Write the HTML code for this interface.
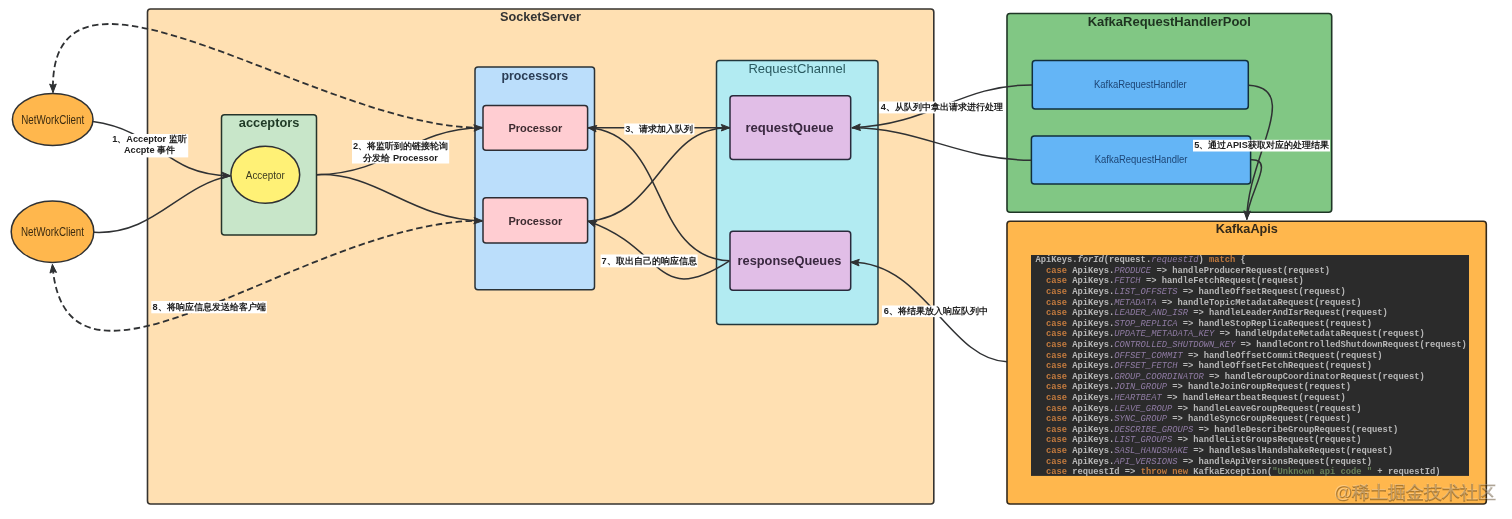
<!DOCTYPE html><html><head><meta charset="utf-8"><style>html,body{margin:0;padding:0;background:#fff;width:1512px;height:519px;overflow:hidden}svg{display:block;font-family:"Liberation Sans",sans-serif;will-change:transform}</style></head><body><svg width="1512" height="519" viewBox="0 0 1512 519" font-family="Liberation Sans, sans-serif">
<rect width="1512" height="519" fill="#fff"/>
<rect x="147.5" y="9" width="786.3" height="495" rx="3" fill="#FFE0B2" stroke="#36332f" stroke-width="1.6"/>
<text x="540.5" y="20.8" font-size="12.7" font-weight="bold" fill="#333" text-anchor="middle" >SocketServer</text>
<rect x="1007" y="13.5" width="324.70000000000005" height="198.7" rx="3" fill="#81C784" stroke="#1f3626" stroke-width="1.6"/>
<text x="1169.3" y="26" font-size="13" font-weight="bold" fill="#1e3320" text-anchor="middle" >KafkaRequestHandlerPool</text>
<rect x="1007" y="221.2" width="479.29999999999995" height="282.8" rx="3" fill="#FFB74D" stroke="#342a1c" stroke-width="1.6"/>
<text x="1246.9" y="233" font-size="12.7" font-weight="bold" fill="#33291a" text-anchor="middle" >KafkaApis</text>
<rect x="221.5" y="114.7" width="95.0" height="120.3" rx="3" fill="#C8E6C9" stroke="#26342a" stroke-width="1.5"/>
<text x="269.1" y="127.2" font-size="12.8" font-weight="bold" fill="#1f3a26" text-anchor="middle" >acceptors</text>
<ellipse cx="265.3" cy="174.7" rx="34.4" ry="28.5" fill="#FFF176" stroke="#2f3133" stroke-width="1.5"/>
<text transform="translate(265.3,178.6) scale(1,1.18)" font-size="9.9" font-weight="normal" fill="#3b3a20" text-anchor="middle" >Acceptor</text>
<ellipse cx="52.7" cy="119.6" rx="40.3" ry="26" fill="#FFB74D" stroke="#2f3133" stroke-width="1.5"/>
<text transform="translate(52.7,123.9) scale(1,1.22)" font-size="9.8" font-weight="normal" fill="#3a2a10" text-anchor="middle" >NetWorkClient</text>
<ellipse cx="52.5" cy="231.8" rx="41.3" ry="30.7" fill="#FFB74D" stroke="#2f3133" stroke-width="1.5"/>
<text transform="translate(52.5,236) scale(1,1.22)" font-size="9.8" font-weight="normal" fill="#3a2a10" text-anchor="middle" >NetWorkClient</text>
<rect x="475" y="67.1" width="119.5" height="222.6" rx="3" fill="#BBDEFB" stroke="#2b3236" stroke-width="1.5"/>
<text x="534.8" y="79.5" font-size="12.4" font-weight="bold" fill="#2b3d55" text-anchor="middle" >processors</text>
<rect x="483" y="105.4" width="104.60000000000002" height="44.900000000000006" rx="3" fill="#FFCDD2" stroke="#2d2d33" stroke-width="1.5"/>
<text x="535.3" y="131.8" font-size="11" font-weight="bold" fill="#3d2b30" text-anchor="middle" >Processor</text>
<rect x="483" y="197.8" width="104.60000000000002" height="45.29999999999998" rx="3" fill="#FFCDD2" stroke="#2d2d33" stroke-width="1.5"/>
<text x="535.3" y="224.6" font-size="11" font-weight="bold" fill="#3d2b30" text-anchor="middle" >Processor</text>
<rect x="716.5" y="60.4" width="161.5" height="264.1" rx="3" fill="#B2EBF2" stroke="#22373c" stroke-width="1.5"/>
<text x="797" y="72.7" font-size="13.05" font-weight="normal" fill="#2a5a60" text-anchor="middle" >RequestChannel</text>
<rect x="730" y="95.8" width="120.70000000000005" height="63.60000000000001" rx="3" fill="#E1BEE7" stroke="#2a2a3c" stroke-width="1.5"/>
<text x="789.5" y="131.8" font-size="13.1" font-weight="bold" fill="#3a2840" text-anchor="middle" >requestQueue</text>
<rect x="730" y="231.2" width="120.70000000000005" height="59.0" rx="3" fill="#E1BEE7" stroke="#2a2a3c" stroke-width="1.5"/>
<text x="789.5" y="265.1" font-size="12.8" font-weight="bold" fill="#3a2840" text-anchor="middle" >responseQueues</text>
<rect x="1032.3" y="60.4" width="216.0" height="48.6" rx="3" fill="#64B5F6" stroke="#112f3c" stroke-width="1.5"/>
<text transform="translate(1140.3,87.9) scale(1,1.16)" font-size="9.5" font-weight="normal" fill="#1d4575" text-anchor="middle" >KafkaRequestHandler</text>
<rect x="1031.4" y="136" width="219.19999999999982" height="48" rx="3" fill="#64B5F6" stroke="#112f3c" stroke-width="1.5"/>
<text transform="translate(1141.1,163.4) scale(1,1.16)" font-size="9.5" font-weight="normal" fill="#1d4575" text-anchor="middle" >KafkaRequestHandler</text>
<rect x="1031" y="255" width="438" height="220.9" fill="#2B2B2B"/>
<text x="1035.4" y="262.30" font-family="Liberation Mono, monospace" font-size="8.78" font-weight="bold" xml:space="preserve"><tspan fill="#b8b8b8">ApiKeys.</tspan><tspan fill="#b8b8b8" font-style="italic">forId</tspan><tspan fill="#b8b8b8">(request.</tspan><tspan fill="#8f7ba3" font-style="italic" font-weight="normal">requestId</tspan><tspan fill="#b8b8b8">) </tspan><tspan fill="#c27a3e">match</tspan><tspan fill="#b8b8b8"> {</tspan></text>
<text x="1035.4" y="272.89" font-family="Liberation Mono, monospace" font-size="8.78" font-weight="bold" xml:space="preserve"><tspan fill="#b8b8b8">  </tspan><tspan fill="#c27a3e">case</tspan><tspan fill="#b8b8b8"> ApiKeys.</tspan><tspan fill="#8f7ba3" font-style="italic" font-weight="normal">PRODUCE</tspan><tspan fill="#b8b8b8"> =&gt; handleProducerRequest(request)</tspan></text>
<text x="1035.4" y="283.48" font-family="Liberation Mono, monospace" font-size="8.78" font-weight="bold" xml:space="preserve"><tspan fill="#b8b8b8">  </tspan><tspan fill="#c27a3e">case</tspan><tspan fill="#b8b8b8"> ApiKeys.</tspan><tspan fill="#8f7ba3" font-style="italic" font-weight="normal">FETCH</tspan><tspan fill="#b8b8b8"> =&gt; handleFetchRequest(request)</tspan></text>
<text x="1035.4" y="294.07" font-family="Liberation Mono, monospace" font-size="8.78" font-weight="bold" xml:space="preserve"><tspan fill="#b8b8b8">  </tspan><tspan fill="#c27a3e">case</tspan><tspan fill="#b8b8b8"> ApiKeys.</tspan><tspan fill="#8f7ba3" font-style="italic" font-weight="normal">LIST_OFFSETS</tspan><tspan fill="#b8b8b8"> =&gt; handleOffsetRequest(request)</tspan></text>
<text x="1035.4" y="304.66" font-family="Liberation Mono, monospace" font-size="8.78" font-weight="bold" xml:space="preserve"><tspan fill="#b8b8b8">  </tspan><tspan fill="#c27a3e">case</tspan><tspan fill="#b8b8b8"> ApiKeys.</tspan><tspan fill="#8f7ba3" font-style="italic" font-weight="normal">METADATA</tspan><tspan fill="#b8b8b8"> =&gt; handleTopicMetadataRequest(request)</tspan></text>
<text x="1035.4" y="315.25" font-family="Liberation Mono, monospace" font-size="8.78" font-weight="bold" xml:space="preserve"><tspan fill="#b8b8b8">  </tspan><tspan fill="#c27a3e">case</tspan><tspan fill="#b8b8b8"> ApiKeys.</tspan><tspan fill="#8f7ba3" font-style="italic" font-weight="normal">LEADER_AND_ISR</tspan><tspan fill="#b8b8b8"> =&gt; handleLeaderAndIsrRequest(request)</tspan></text>
<text x="1035.4" y="325.84" font-family="Liberation Mono, monospace" font-size="8.78" font-weight="bold" xml:space="preserve"><tspan fill="#b8b8b8">  </tspan><tspan fill="#c27a3e">case</tspan><tspan fill="#b8b8b8"> ApiKeys.</tspan><tspan fill="#8f7ba3" font-style="italic" font-weight="normal">STOP_REPLICA</tspan><tspan fill="#b8b8b8"> =&gt; handleStopReplicaRequest(request)</tspan></text>
<text x="1035.4" y="336.43" font-family="Liberation Mono, monospace" font-size="8.78" font-weight="bold" xml:space="preserve"><tspan fill="#b8b8b8">  </tspan><tspan fill="#c27a3e">case</tspan><tspan fill="#b8b8b8"> ApiKeys.</tspan><tspan fill="#8f7ba3" font-style="italic" font-weight="normal">UPDATE_METADATA_KEY</tspan><tspan fill="#b8b8b8"> =&gt; handleUpdateMetadataRequest(request)</tspan></text>
<text x="1035.4" y="347.02" font-family="Liberation Mono, monospace" font-size="8.78" font-weight="bold" xml:space="preserve"><tspan fill="#b8b8b8">  </tspan><tspan fill="#c27a3e">case</tspan><tspan fill="#b8b8b8"> ApiKeys.</tspan><tspan fill="#8f7ba3" font-style="italic" font-weight="normal">CONTROLLED_SHUTDOWN_KEY</tspan><tspan fill="#b8b8b8"> =&gt; handleControlledShutdownRequest(request)</tspan></text>
<text x="1035.4" y="357.61" font-family="Liberation Mono, monospace" font-size="8.78" font-weight="bold" xml:space="preserve"><tspan fill="#b8b8b8">  </tspan><tspan fill="#c27a3e">case</tspan><tspan fill="#b8b8b8"> ApiKeys.</tspan><tspan fill="#8f7ba3" font-style="italic" font-weight="normal">OFFSET_COMMIT</tspan><tspan fill="#b8b8b8"> =&gt; handleOffsetCommitRequest(request)</tspan></text>
<text x="1035.4" y="368.20" font-family="Liberation Mono, monospace" font-size="8.78" font-weight="bold" xml:space="preserve"><tspan fill="#b8b8b8">  </tspan><tspan fill="#c27a3e">case</tspan><tspan fill="#b8b8b8"> ApiKeys.</tspan><tspan fill="#8f7ba3" font-style="italic" font-weight="normal">OFFSET_FETCH</tspan><tspan fill="#b8b8b8"> =&gt; handleOffsetFetchRequest(request)</tspan></text>
<text x="1035.4" y="378.79" font-family="Liberation Mono, monospace" font-size="8.78" font-weight="bold" xml:space="preserve"><tspan fill="#b8b8b8">  </tspan><tspan fill="#c27a3e">case</tspan><tspan fill="#b8b8b8"> ApiKeys.</tspan><tspan fill="#8f7ba3" font-style="italic" font-weight="normal">GROUP_COORDINATOR</tspan><tspan fill="#b8b8b8"> =&gt; handleGroupCoordinatorRequest(request)</tspan></text>
<text x="1035.4" y="389.38" font-family="Liberation Mono, monospace" font-size="8.78" font-weight="bold" xml:space="preserve"><tspan fill="#b8b8b8">  </tspan><tspan fill="#c27a3e">case</tspan><tspan fill="#b8b8b8"> ApiKeys.</tspan><tspan fill="#8f7ba3" font-style="italic" font-weight="normal">JOIN_GROUP</tspan><tspan fill="#b8b8b8"> =&gt; handleJoinGroupRequest(request)</tspan></text>
<text x="1035.4" y="399.97" font-family="Liberation Mono, monospace" font-size="8.78" font-weight="bold" xml:space="preserve"><tspan fill="#b8b8b8">  </tspan><tspan fill="#c27a3e">case</tspan><tspan fill="#b8b8b8"> ApiKeys.</tspan><tspan fill="#8f7ba3" font-style="italic" font-weight="normal">HEARTBEAT</tspan><tspan fill="#b8b8b8"> =&gt; handleHeartbeatRequest(request)</tspan></text>
<text x="1035.4" y="410.56" font-family="Liberation Mono, monospace" font-size="8.78" font-weight="bold" xml:space="preserve"><tspan fill="#b8b8b8">  </tspan><tspan fill="#c27a3e">case</tspan><tspan fill="#b8b8b8"> ApiKeys.</tspan><tspan fill="#8f7ba3" font-style="italic" font-weight="normal">LEAVE_GROUP</tspan><tspan fill="#b8b8b8"> =&gt; handleLeaveGroupRequest(request)</tspan></text>
<text x="1035.4" y="421.15" font-family="Liberation Mono, monospace" font-size="8.78" font-weight="bold" xml:space="preserve"><tspan fill="#b8b8b8">  </tspan><tspan fill="#c27a3e">case</tspan><tspan fill="#b8b8b8"> ApiKeys.</tspan><tspan fill="#8f7ba3" font-style="italic" font-weight="normal">SYNC_GROUP</tspan><tspan fill="#b8b8b8"> =&gt; handleSyncGroupRequest(request)</tspan></text>
<text x="1035.4" y="431.74" font-family="Liberation Mono, monospace" font-size="8.78" font-weight="bold" xml:space="preserve"><tspan fill="#b8b8b8">  </tspan><tspan fill="#c27a3e">case</tspan><tspan fill="#b8b8b8"> ApiKeys.</tspan><tspan fill="#8f7ba3" font-style="italic" font-weight="normal">DESCRIBE_GROUPS</tspan><tspan fill="#b8b8b8"> =&gt; handleDescribeGroupRequest(request)</tspan></text>
<text x="1035.4" y="442.33" font-family="Liberation Mono, monospace" font-size="8.78" font-weight="bold" xml:space="preserve"><tspan fill="#b8b8b8">  </tspan><tspan fill="#c27a3e">case</tspan><tspan fill="#b8b8b8"> ApiKeys.</tspan><tspan fill="#8f7ba3" font-style="italic" font-weight="normal">LIST_GROUPS</tspan><tspan fill="#b8b8b8"> =&gt; handleListGroupsRequest(request)</tspan></text>
<text x="1035.4" y="452.92" font-family="Liberation Mono, monospace" font-size="8.78" font-weight="bold" xml:space="preserve"><tspan fill="#b8b8b8">  </tspan><tspan fill="#c27a3e">case</tspan><tspan fill="#b8b8b8"> ApiKeys.</tspan><tspan fill="#8f7ba3" font-style="italic" font-weight="normal">SASL_HANDSHAKE</tspan><tspan fill="#b8b8b8"> =&gt; handleSaslHandshakeRequest(request)</tspan></text>
<text x="1035.4" y="463.51" font-family="Liberation Mono, monospace" font-size="8.78" font-weight="bold" xml:space="preserve"><tspan fill="#b8b8b8">  </tspan><tspan fill="#c27a3e">case</tspan><tspan fill="#b8b8b8"> ApiKeys.</tspan><tspan fill="#8f7ba3" font-style="italic" font-weight="normal">API_VERSIONS</tspan><tspan fill="#b8b8b8"> =&gt; handleApiVersionsRequest(request)</tspan></text>
<text x="1035.4" y="474.10" font-family="Liberation Mono, monospace" font-size="8.78" font-weight="bold" xml:space="preserve"><tspan fill="#b8b8b8">  </tspan><tspan fill="#c27a3e">case</tspan><tspan fill="#b8b8b8"> requestId =&gt; </tspan><tspan fill="#c27a3e">throw</tspan><tspan fill="#b8b8b8"> </tspan><tspan fill="#c27a3e">new</tspan><tspan fill="#b8b8b8"> KafkaException(</tspan><tspan fill="#68805a">&quot;Unknown api code &quot;</tspan><tspan fill="#b8b8b8"> + requestId)</tspan></text>
<path d="M 482.4 127.7 C 322.1 130.1, 47.3 -81.0, 53 92.5" fill="none" stroke="#2f3133" stroke-width="1.8" stroke-dasharray="6.5 3.5"/>
<polygon points="53.00,92.50 49.66,84.02 52.97,85.50 56.26,83.98" fill="#2f3133" stroke="#2f3133" stroke-width="1" stroke-linejoin="miter"/>
<path d="M 482 220.7 C 307.5 219.3, 65.0 436.6, 52.4 264.3" fill="none" stroke="#2f3133" stroke-width="1.8" stroke-dasharray="6.5 3.5"/>
<polygon points="52.40,264.30 56.53,272.43 53.10,271.27 49.96,273.09" fill="#2f3133" stroke="#2f3133" stroke-width="1" stroke-linejoin="miter"/>
<path d="M 92.8 121.6 C 159.6 130.9, 164.3 175.3, 230.5 175.8" fill="none" stroke="#2f3133" stroke-width="1.5"/>
<polygon points="230.50,175.80 221.89,178.79 223.50,175.54 222.13,172.19" fill="#2f3133" stroke="#2f3133" stroke-width="1" stroke-linejoin="miter"/>
<path d="M 94 232.3 C 154.5 235.3, 178.1 185.7, 230.5 175.8" fill="none" stroke="#2f3133" stroke-width="1.5"/>
<path d="M 316.6 174.7 C 392.9 173.4, 408.3 128.6, 482.4 127.7" fill="none" stroke="#2f3133" stroke-width="1.5"/>
<polygon points="482.40,127.70 474.02,131.29 475.40,127.94 473.79,124.70" fill="#2f3133" stroke="#2f3133" stroke-width="1" stroke-linejoin="miter"/>
<path d="M 316.6 174.7 C 378.2 172.1, 409.8 219.2, 482.4 221" fill="none" stroke="#2f3133" stroke-width="1.5"/>
<polygon points="482.40,221.00 473.75,223.88 475.41,220.66 474.07,217.29" fill="#2f3133" stroke="#2f3133" stroke-width="1" stroke-linejoin="miter"/>
<path d="M 588 127.7 C 640 127.7, 680 127.7, 729.8 127.7" fill="none" stroke="#2f3133" stroke-width="1.5"/>
<polygon points="729.80,127.70 721.30,131.00 722.80,127.70 721.30,124.40" fill="#2f3133" stroke="#2f3133" stroke-width="1" stroke-linejoin="miter"/>
<path d="M 588 221.2 C 659.9 215.7, 660.7 126.6, 729.8 127.7" fill="none" stroke="#2f3133" stroke-width="1.5"/>
<path d="M 729.5 260.8 C 648.9 258.2, 669.5 132.9, 588 127.7" fill="none" stroke="#2f3133" stroke-width="1.5"/>
<polygon points="588.00,127.70 596.83,125.43 594.95,128.53 596.05,131.98" fill="#2f3133" stroke="#2f3133" stroke-width="1" stroke-linejoin="miter"/>
<path d="M 729.5 260.8 C 654.1 309.5, 665.6 247.6, 588 221.2" fill="none" stroke="#2f3133" stroke-width="1.5"/>
<polygon points="588.00,221.20 597.12,221.06 594.56,223.63 594.83,227.24" fill="#2f3133" stroke="#2f3133" stroke-width="1" stroke-linejoin="miter"/>
<path d="M 1032.4 85 C 959.4 84.5, 931.8 124.9, 851.9 127.7" fill="none" stroke="#2f3133" stroke-width="1.5"/>
<polygon points="851.90,127.70 860.22,123.96 858.89,127.33 860.56,130.55" fill="#2f3133" stroke="#2f3133" stroke-width="1" stroke-linejoin="miter"/>
<path d="M 1031.3 160.2 C 959.4 159.9, 920.3 127.9, 851.9 127.7" fill="none" stroke="#2f3133" stroke-width="1.5"/>
<path d="M 1248.7 85.2 C 1303.1 88.3, 1246.8 158.8, 1246.8 219.4" fill="none" stroke="#2f3133" stroke-width="1.5"/>
<polygon points="1246.80,219.40 1243.84,210.78 1247.08,212.41 1250.44,211.04" fill="#2f3133" stroke="#2f3133" stroke-width="1" stroke-linejoin="miter"/>
<path d="M 1251 159.7 C 1276.3 158.8, 1247.9 192.5, 1246.8 219.4" fill="none" stroke="#2f3133" stroke-width="1.5"/>
<path d="M 1007 361.7 C 949.0 360.0, 924.4 261.4, 850.7 262.3" fill="none" stroke="#2f3133" stroke-width="1.5"/>
<polygon points="850.70,262.30 859.32,259.33 857.69,262.57 859.07,265.92" fill="#2f3133" stroke="#2f3133" stroke-width="1" stroke-linejoin="miter"/>
<rect x="111" y="134" width="77.19999999999999" height="23.400000000000006" fill="#fff"/>
<text x="149.5" y="142.20000000000002" font-size="9.2" font-weight="bold" fill="#222" text-anchor="middle" >1、Acceptor 监听</text>
<text x="149.5" y="153.4" font-size="9.2" font-weight="bold" fill="#222" text-anchor="middle" >Accpte 事件</text>
<rect x="352" y="140" width="97.19999999999999" height="23.5" fill="#fff"/>
<text x="400.6" y="149.20000000000002" font-size="9.2" font-weight="bold" fill="#222" text-anchor="middle" >2、将监听到的链接轮询</text>
<text x="400.6" y="160.60000000000002" font-size="9.2" font-weight="bold" fill="#222" text-anchor="middle" >分发给 Processor</text>
<rect x="624.3" y="123.5" width="70.10000000000002" height="11.099999999999994" fill="#fff"/>
<text x="659.3" y="131.60000000000002" font-size="9.2" font-weight="bold" fill="#222" text-anchor="middle" >3、请求加入队列</text>
<rect x="879.1" y="101.5" width="125.39999999999998" height="11.900000000000006" fill="#fff"/>
<text x="941.8" y="110.1" font-size="9.2" font-weight="bold" fill="#222" text-anchor="middle" >4、从队列中拿出请求进行处理</text>
<rect x="1193" y="139.8" width="137" height="11.699999999999989" fill="#fff"/>
<text x="1261.5" y="148.20000000000002" font-size="9.2" font-weight="bold" fill="#222" text-anchor="middle" >5、通过APIS获取对应的处理结果</text>
<rect x="882" y="305.5" width="107.5" height="11.600000000000023" fill="#fff"/>
<text x="935.7" y="313.90000000000003" font-size="9.2" font-weight="bold" fill="#222" text-anchor="middle" >6、将结果放入响应队列中</text>
<rect x="600.6" y="254.5" width="97.0" height="12.800000000000011" fill="#fff"/>
<text x="649.1" y="263.6" font-size="9.2" font-weight="bold" fill="#222" text-anchor="middle" >7、取出自己的响应信息</text>
<rect x="151.3" y="301" width="115.59999999999997" height="12.300000000000011" fill="#fff"/>
<text x="209.1" y="309.6" font-size="9.2" font-weight="bold" fill="#222" text-anchor="middle" >8、将响应信息发送给客户端</text>
<text x="1415.6" y="499.2" font-size="18.2" font-weight="bold" text-anchor="middle" fill="rgba(60,35,0,0.42)">@稀土掘金技术社区</text>
<text x="1414.8" y="498.4" font-size="18.2" font-weight="normal" text-anchor="middle" fill="rgba(255,255,255,0.28)">@稀土掘金技术社区</text>
</svg></body></html>
